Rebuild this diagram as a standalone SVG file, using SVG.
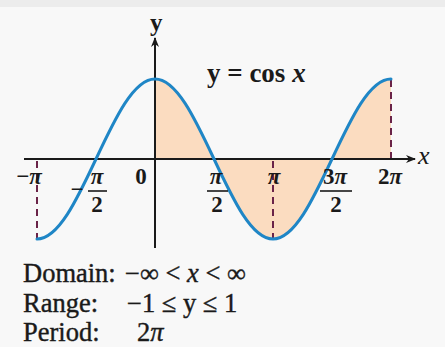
<svg xmlns="http://www.w3.org/2000/svg" width="445" height="347" viewBox="0 0 445 347">
<defs>
<style>
.t{font-family:"Liberation Serif","Times New Roman",serif;fill:#1a1a1a}
.lab{font-size:23px;font-weight:bold;text-anchor:middle}
.bot{font-size:26.5px;stroke:#1a1a1a;stroke-width:0.4}
.pi{font-style:italic}
.ax{stroke:#1a1a1a;stroke-width:2;fill:none}
.dash{stroke:#6a2348;stroke-width:2;stroke-dasharray:7 5;fill:none}
.fill{fill:#fbdcc0;stroke:none}
.curve{stroke:#1f86c6;stroke-width:3;fill:none;stroke-linecap:round}
.bar{stroke:#1a1a1a;stroke-width:1.6}
</style>
<marker id="arr" viewBox="0 0 10 8" refX="9" refY="4" markerWidth="10" markerHeight="8" markerUnits="userSpaceOnUse" orient="auto">
<path d="M0,0 L10,4 L0,8 L3,4 Z" fill="#1a1a1a"/>
</marker>
</defs>
<rect width="445" height="347" fill="#f8f8f8"/>
<rect width="445" height="7" fill="#ececec"/>
<g id="shading">
<path class="fill" d="M155,159 L155,79 C176.35,79 194.76,118.02 214,159 Z"/>
<path class="fill" d="M214,159 C233.24,199.98 251.65,239 273,239 C294.35,239 312.76,199.98 332,159 Z"/>
<path class="fill" d="M332,159 C351.24,118.02 369.65,79 391,79 L391,159 Z"/>
</g>
<g id="connectors">
<line id="x-axis" class="ax" x1="24" y1="159" x2="415" y2="159" marker-end="url(#arr)"/>
<line id="y-axis" class="ax" x1="155" y1="248" x2="155" y2="38" marker-end="url(#arr)"/>
<line class="dash" x1="37" y1="161" x2="37" y2="238"/>
<line class="dash" x1="273" y1="161" x2="273" y2="238"/>
<line class="dash" x1="391" y1="80" x2="391" y2="158"/>
</g>
<g id="curve">
<path class="curve" d="M37,239 C58.35,239 76.76,199.98 96,159 C115.24,118.02 133.65,79 155,79 C176.35,79 194.76,118.02 214,159 C233.24,199.98 251.65,239 273,239 C294.35,239 312.76,199.98 332,159 C351.24,118.02 369.65,79 391,79"/>
</g>
<g id="axis-labels">
<text class="t" x="150" y="31" font-size="25" font-weight="bold">y</text>
<text class="t pi" x="418" y="164" font-size="26">x</text>
</g>
<g id="equation">
<text class="t" x="207" y="82" font-size="27" font-weight="bold">y = cos <tspan class="pi">x</tspan></text>
</g>
<g id="tick-labels">
<text class="t lab" x="29" y="184">−<tspan class="pi">π</tspan></text>
<text class="t lab" x="77" y="197">−</text>
<text class="t lab pi" x="97" y="184">π</text>
<line class="bar" x1="88" y1="191" x2="107" y2="191"/>
<text class="t lab" x="97" y="212">2</text>
<text class="t lab" x="141" y="184">0</text>
<text class="t lab pi" x="216" y="184">π</text>
<line class="bar" x1="207" y1="191" x2="228" y2="191"/>
<text class="t lab" x="217" y="212">2</text>
<text class="t lab pi" x="274" y="184">π</text>
<text class="t lab" x="335" y="184">3<tspan class="pi">π</tspan></text>
<line class="bar" x1="320" y1="191" x2="352" y2="191"/>
<text class="t lab" x="336" y="212">2</text>
<text class="t lab" x="390" y="184">2<tspan class="pi">π</tspan></text>
</g>
<g id="properties">
<text class="t bot" x="23" y="282">Domain: <tspan x="125">−∞ &lt; <tspan class="pi">x</tspan> &lt; ∞</tspan></text>
<text class="t bot" x="23" y="312">Range: <tspan x="127">−1 ≤ y ≤ 1</tspan></text>
<text class="t bot" x="23" y="341">Period: <tspan x="137">2<tspan class="pi">π</tspan></tspan></text>
</g>
</svg>
